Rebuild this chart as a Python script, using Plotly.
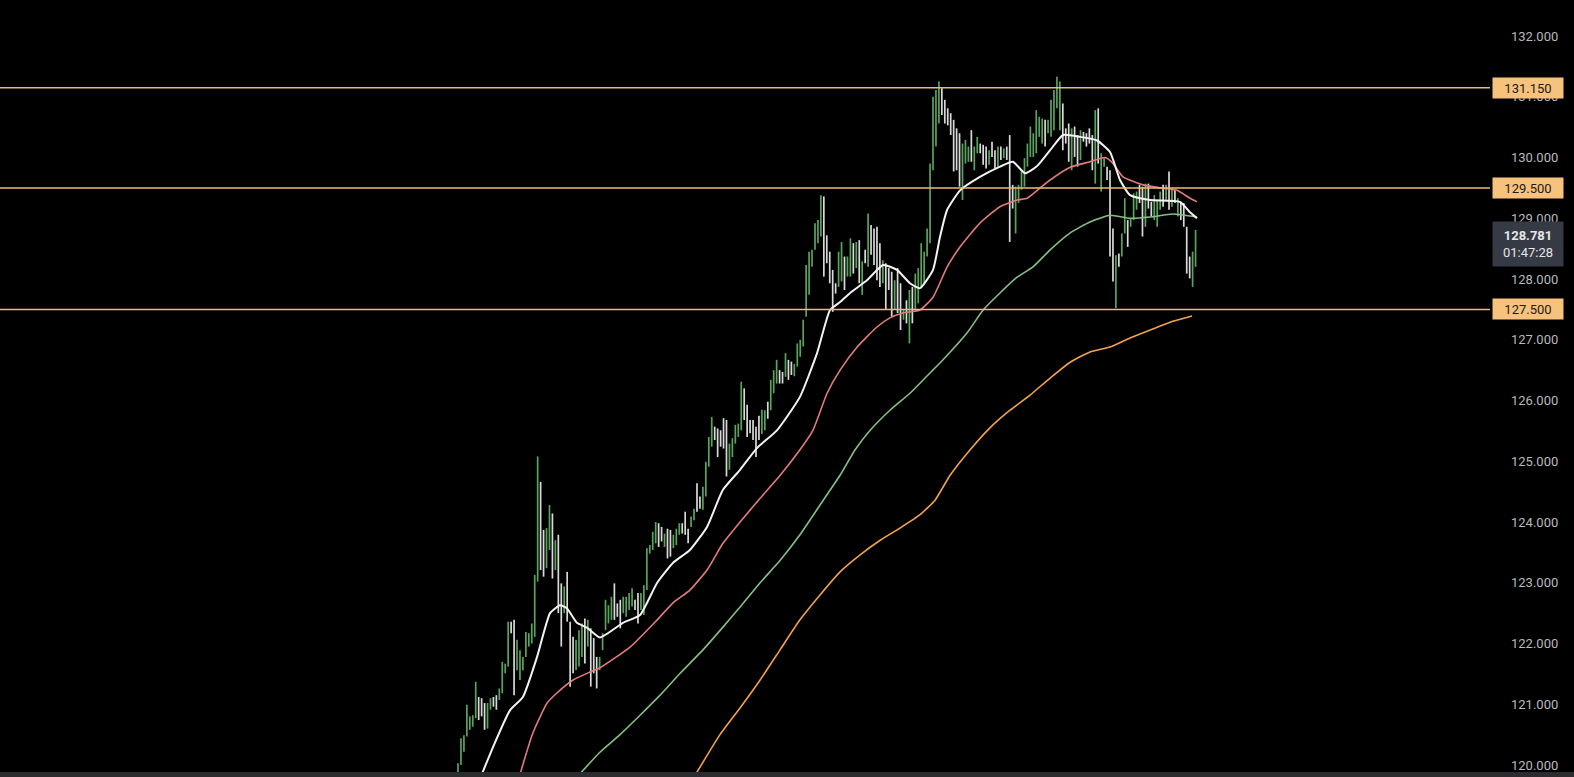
import plotly.graph_objects as go

# ---------------- price bars ----------------
bar_open = [
    119.88,120.02,120.30,120.50,120.62,120.66,120.80,121.08,121.05,120.98,120.65,120.95,121.08,121.10,121.10,121.22,121.55,121.65,122.32,122.30,
    121.60,121.45,121.58,121.80,121.98,122.05,122.15,123.05,124.40,123.80,123.30,123.60,124.10,123.25,123.70,122.90,122.55,123.10,122.30,122.05,
    121.60,121.66,121.82,122.35,121.98,122.20,122.05,121.74,121.58,
    121.92,122.25,122.36,122.42,122.90,122.62,122.68,122.52,122.48,122.58,122.64,122.70,122.78,122.58,122.50,122.92,123.50,123.56,123.68,123.94,
    123.88,123.62,123.85,123.82,123.60,123.65,123.82,123.95,124.10,123.86,123.94,124.05,124.55,124.38,124.24,124.46,124.94,125.28,125.55,125.50,
    125.48,125.65,125.60,124.90,125.10,125.32,125.42,125.55,126.10,125.88,125.65,125.64,125.52,125.70,125.48,
    125.54,125.94,125.86,126.15,126.30,126.46,126.44,126.42,126.62,126.60,126.42,126.58,126.75,126.92,127.40,127.78,128.22,128.50,128.62,128.75,
    129.30,128.68,128.40,128.10,127.90,127.90,128.00,128.32,128.06,128.08,128.55,128.20,128.60,127.78,128.45,128.25,128.85,128.78,128.80,128.55,
    127.96,128.20,128.15,128.08,127.52,128.12,127.88,127.35,
    127.60,127.00,127.82,127.52,127.64,127.90,127.96,128.40,128.62,129.82,130.22,130.60,131.10,130.90,130.78,130.70,130.58,130.44,130.36,129.35,
    129.93,129.96,130.40,129.82,130.09,130.20,130.18,130.15,129.90,130.22,130.08,129.88,130.15,130.00,130.15,130.05,129.50,128.80,129.28,129.50,
    129.55,129.88,130.04,130.04,130.10,130.36,130.26,130.58,
    130.42,130.37,130.48,130.84,130.50,130.85,130.45,130.52,129.82,130.48,130.34,129.98,130.40,130.37,130.45,130.33,129.62,130.76,129.48,129.87,
    129.82,129.72,128.78,127.58,128.40,128.40,128.78,128.94,128.88,129.00,129.16,129.52,129.48,128.90,129.54,129.25,129.00,128.90,129.16,129.52,
    129.32,129.70,129.21,129.44,129.05,129.24,129.22,128.82,128.34,127.92,128.24,
]
bar_high = [
    120.03,120.44,120.49,120.99,120.80,120.82,121.37,121.12,121.10,121.02,121.02,121.10,121.12,121.15,121.26,121.70,121.67,122.36,122.36,122.39,
    122.06,121.89,121.78,122.19,122.17,122.33,123.13,125.08,124.66,123.87,123.90,124.28,124.14,123.70,123.79,122.99,122.94,123.18,122.36,122.11,
    122.06,122.22,122.33,122.41,122.39,122.25,122.09,121.78,121.78,
    122.17,122.72,122.63,122.77,122.99,122.66,122.72,122.77,122.77,122.83,122.91,122.72,122.83,122.83,122.96,123.57,123.62,123.84,124.00,123.98,
    123.92,123.81,123.89,123.87,123.79,123.89,123.98,123.98,124.17,123.89,124.09,124.22,124.64,124.42,124.58,124.99,125.40,125.73,125.57,125.54,
    125.51,125.71,125.68,125.29,125.38,125.60,125.62,126.31,126.20,125.93,125.68,125.68,125.57,125.75,125.85,
    125.84,125.98,126.34,126.50,126.67,126.50,126.47,126.78,126.67,126.64,126.60,126.94,127.00,127.33,128.23,128.45,128.48,128.92,128.97,129.38,
    129.36,128.72,128.45,128.15,127.93,128.45,128.61,128.37,128.37,128.67,128.59,128.61,128.64,128.29,128.48,129.08,128.89,128.83,128.86,128.59,
    128.31,128.26,128.18,128.12,127.98,128.18,127.93,127.49,
    127.65,127.82,127.87,128.09,128.18,128.59,128.45,128.83,129.90,131.00,131.11,131.25,131.14,130.95,130.81,130.73,130.62,130.48,130.40,130.23,
    130.29,130.18,130.45,130.18,130.34,130.23,130.21,130.18,130.12,130.26,130.12,130.18,130.18,130.15,130.18,130.37,129.55,129.52,129.55,129.79,
    129.99,130.23,130.51,130.40,130.78,130.67,130.64,130.62,
    130.62,130.95,131.11,131.33,131.25,130.89,130.48,130.56,130.48,130.51,130.37,130.45,130.42,130.40,130.48,130.37,130.78,130.81,130.07,130.01,
    129.85,129.79,128.83,128.39,128.42,128.75,129.33,128.97,129.00,129.41,129.44,129.55,129.52,129.57,129.57,129.27,129.38,129.30,129.44,129.55,
    129.55,129.77,129.49,129.46,129.33,129.27,129.25,128.86,128.37,128.45,128.81,
]
bar_low = [
    119.84,120.00,120.22,120.47,120.58,120.63,120.77,120.74,120.80,120.58,120.60,120.91,120.96,120.91,121.07,121.18,121.51,121.62,122.17,121.15,
    121.56,121.40,121.56,121.78,121.95,122.00,122.11,123.02,123.21,123.10,123.24,123.54,123.07,123.21,122.50,121.95,122.50,122.36,121.29,121.51,
    121.56,121.62,121.78,121.67,121.95,121.29,121.51,121.26,121.56,
    121.89,122.22,122.33,122.39,122.39,122.44,122.25,122.50,122.44,122.55,122.61,122.55,122.33,122.55,122.47,122.88,123.48,123.54,123.65,123.59,
    123.68,123.59,123.40,123.43,123.57,123.62,123.79,123.81,123.79,123.65,123.92,124.03,124.17,124.22,124.20,124.42,124.91,125.24,125.35,125.07,
    125.24,125.21,124.75,124.86,125.07,125.29,125.40,125.51,125.68,125.40,125.46,125.35,125.07,125.35,125.45,
    125.51,125.70,125.84,126.12,126.28,126.28,126.28,126.39,126.34,126.42,126.40,126.56,126.72,126.89,127.38,127.74,128.20,128.48,128.59,128.70,
    128.04,128.26,127.93,127.46,127.76,127.87,127.96,127.82,128.04,128.04,128.09,128.18,127.93,127.74,128.26,128.20,128.40,128.23,127.98,127.87,
    127.93,127.49,127.82,127.38,127.49,127.44,127.16,127.33,
    127.27,126.94,127.27,127.49,127.60,127.87,127.93,128.37,128.59,129.79,130.18,130.56,130.70,130.56,130.53,130.37,129.77,129.79,129.52,129.30,
    129.90,129.93,129.93,129.79,130.07,130.07,129.88,129.82,129.88,130.01,129.82,129.85,129.96,129.99,129.96,128.61,129.16,128.75,129.25,129.47,
    129.52,129.85,130.01,130.01,130.07,130.34,130.23,130.18,
    130.40,130.34,130.45,130.81,130.45,130.12,130.23,129.93,129.79,130.01,129.85,129.96,130.26,130.18,130.23,129.79,129.57,129.90,129.44,129.85,
    129.63,128.37,127.96,127.52,128.20,128.37,128.75,128.53,128.86,128.97,129.14,129.25,128.70,128.86,129.16,129.03,128.97,128.86,129.14,129.19,
    129.30,129.14,129.19,129.25,129.03,128.97,128.86,128.09,128.01,127.87,128.20,
]
bar_close = [
    120.00,120.40,120.45,120.90,120.76,120.80,121.30,120.80,120.85,120.65,120.98,121.06,121.00,120.96,121.22,121.65,121.64,122.30,122.20,121.25,
    122.00,121.85,121.75,122.15,122.12,122.30,123.05,124.40,123.30,123.20,123.85,124.20,123.15,123.65,122.60,122.05,122.90,122.45,121.40,121.60,
    122.00,122.18,122.28,121.72,122.35,121.35,121.55,121.30,121.75,
    122.12,122.68,122.58,122.72,122.45,122.48,122.30,122.74,122.72,122.80,122.88,122.58,122.38,122.80,122.92,123.50,123.60,123.80,123.96,123.64,
    123.72,123.78,123.45,123.48,123.76,123.86,123.95,123.84,123.82,123.68,124.06,124.20,124.22,124.25,124.54,124.95,125.35,125.60,125.40,125.12,
    125.28,125.25,124.85,125.25,125.35,125.56,125.60,126.10,125.72,125.45,125.50,125.40,125.12,125.40,125.80,
    125.80,125.75,126.30,126.45,126.62,126.32,126.30,126.74,126.38,126.45,126.58,126.90,126.96,127.30,128.15,128.40,128.45,128.88,128.90,129.30,
    128.15,128.30,127.98,127.52,127.78,128.40,128.55,127.86,128.33,128.62,128.12,128.58,127.98,128.25,128.28,128.95,128.45,128.28,128.05,127.92,
    128.28,127.55,127.86,127.45,127.95,127.50,127.22,127.46,
    127.30,127.75,127.32,128.05,128.12,128.55,128.40,128.80,129.85,130.90,131.05,131.10,130.74,130.60,130.56,130.40,129.82,129.84,129.58,130.18,
    130.25,130.15,129.96,130.14,130.30,130.09,129.92,129.86,130.10,130.04,129.86,130.15,129.98,130.12,129.98,128.80,129.20,129.45,129.52,129.76,
    129.95,130.20,130.48,130.36,130.72,130.64,130.60,130.22,
    130.60,130.90,131.05,131.20,131.15,130.16,130.26,129.98,130.44,130.04,129.88,130.40,130.28,130.20,130.26,129.84,130.70,129.95,130.02,129.98,
    129.66,128.45,128.02,128.32,128.22,128.70,129.28,128.56,128.98,129.38,129.40,129.28,128.76,129.52,129.20,129.05,129.35,129.26,129.42,129.22,
    129.52,129.18,129.46,129.28,129.30,129.00,128.90,128.14,128.04,128.40,128.781,
]
bar_index = list(range(len(bar_close)))

# ---------------- moving averages (sampled at bar indices) ----------------
ma_white_idx = [6, 11.9, 17.6, 22.0, 26.8, 31.2, 34.6, 36.9, 40.3, 43.7, 48.1, 55.9, 61.7, 67.5, 72.9, 78.6, 84.4, 89.8, 95.6, 101.4,
                108.1, 115.9, 121.7, 126.1, 129.5, 132.9, 138.6, 144.1, 148.8, 153.2, 156.6, 161.0, 163.4, 165.8, 170.2, 176.9, 183.7, 188.1,
                192.2, 196.3, 200.7, 205.1, 210.8, 216.6, 221.0, 224.4, 227.8, 234.6, 244.7, 248.1, 250.5]
ma_white_val = [119.60, 120.30, 120.90, 121.12, 121.78, 122.50, 122.63, 122.58, 122.34, 122.26, 122.10, 122.34, 122.47, 123.00, 123.33, 123.54, 123.92, 124.53, 124.86, 125.22,
                125.51, 126.06, 126.78, 127.49, 127.62, 127.77, 127.98, 128.23, 128.15, 127.93, 127.85, 128.15, 128.70, 129.14, 129.46, 129.68, 129.85, 129.93,
                129.74, 129.86, 130.12, 130.37, 130.34, 130.28, 130.09, 129.63, 129.38, 129.30, 129.27, 129.10, 129.00]

ma_red_idx = [19.5, 25.4, 30.2, 33.6, 39.0, 44.7, 48.1, 58.3, 67.5, 72.9, 78.6, 84.4, 89.8, 95.6, 102.4, 109.2, 115.9, 120.3, 125.1, 129.5,
              135.3, 142.0, 146.4, 150.8, 156.6, 161.0, 165.8, 170.2, 176.9, 183.7, 189.5, 192.9, 197.3, 200.7, 207.5, 214.2, 219.3, 221.7, 225.4,
              232.2, 238.0, 243.7, 248.1, 250.5]
ma_red_val = [119.60, 120.53, 121.02, 121.19, 121.40, 121.53, 121.60, 121.94, 122.39, 122.67, 122.88, 123.21, 123.65, 124.00, 124.39, 124.77, 125.19, 125.51, 126.12, 126.50,
              126.88, 127.21, 127.36, 127.44, 127.49, 127.70, 128.20, 128.53, 128.92, 129.19, 129.30, 129.33, 129.50, 129.63, 129.84, 129.93, 130.00, 129.92, 129.68,
              129.55, 129.50, 129.46, 129.33, 129.27]

ma_green_idx = [37.5, 48.1, 54.9, 61.7, 68.5, 75.3, 83.1, 89.8, 95.6, 102.4, 109.2, 115.9, 122.7, 129.5, 134.6, 139.7, 146.4, 153.2, 158.3, 164.4,
                172.5, 178.0, 183.7, 189.5, 194.9, 200.7, 207.5, 214.2, 221.0, 227.8, 234.6, 242.4, 250.5]
ma_green_val = [119.65, 120.21, 120.50, 120.82, 121.15, 121.51, 121.90, 122.27, 122.60, 123.00, 123.37, 123.79, 124.28, 124.77, 125.19, 125.51, 125.84, 126.12, 126.37, 126.67,
                127.11, 127.49, 127.77, 128.03, 128.20, 128.48, 128.76, 128.94, 129.05, 129.00, 129.02, 129.07, 129.02]

ma_orange_idx = [77.5, 88.8, 95.6, 102.4, 109.2, 115.9, 122.7, 129.5, 136.3, 143.1, 149.8, 156.6, 161.7, 166.8, 173.6, 180.3, 187.1, 193.9,
                 200.7, 207.5, 214.2, 221.0, 227.8, 234.6, 241.4, 248.8]
ma_orange_val = [119.60, 120.50, 120.94, 121.40, 121.90, 122.39, 122.80, 123.18, 123.46, 123.70, 123.90, 124.12, 124.36, 124.77, 125.19, 125.55, 125.84, 126.09,
                 126.37, 126.63, 126.80, 126.88, 127.03, 127.16, 127.29, 127.39]

# ---------------- levels and labels ----------------
level_prices = [131.150, 129.500, 127.500]
level_labels = ["131.150", "129.500", "127.500"]
last_price = 128.781
last_price_label = "128.781"
countdown_label = "01:47:28"
y_ticks = [120, 121, 122, 123, 124, 125, 126, 127, 128, 129, 130, 131, 132]
y_tick_labels = ["120.000", "121.000", "122.000", "123.000", "124.000", "125.000", "126.000",
                 "127.000", "128.000", "129.000", "130.000", "131.000", "132.000"]

BG = "#000000"
UP = "#5aa35c"
DOWN = "#d9d9d9"
LEVEL = "#edbd74"
LABEL_BG = "#f7c27c"
AXIS_TXT = "#b7b9bf"
FONT = "Roboto"

fig = go.Figure()

fig.add_trace(go.Ohlc(
    x=bar_index, open=bar_open, high=bar_high, low=bar_low, close=bar_close,
    tickwidth=0,
    increasing=dict(line=dict(color=UP, width=1.7)),
    decreasing=dict(line=dict(color=DOWN, width=1.7)),
    hoverinfo="skip",
))

for idx, val, col, w in [
    (ma_orange_idx, ma_orange_val, "#f0a24c", 1.6),
    (ma_green_idx, ma_green_val, "#86bf86", 1.6),
    (ma_red_idx, ma_red_val, "#e47b7b", 1.6),
    (ma_white_idx, ma_white_val, "#f2f2f2", 2.0),
]:
    fig.add_trace(go.Scatter(x=idx, y=val, mode="lines",
                             line=dict(color=col, width=w, shape="spline", smoothing=0.5),
                             hoverinfo="skip"))

shapes = []
for p in level_prices:
    shapes.append(dict(type="line", xref="paper", x0=0, x1=1, yref="y", y0=p, y1=p,
                       line=dict(color=LEVEL, width=1.5), layer="above"))
# bottom time-axis strip
shapes.append(dict(type="rect", xref="paper", x0=0, x1=1.06, yref="paper", y0=-0.02, y1=0,
                   fillcolor="#2c2c30", line=dict(width=0), layer="above"))

annotations = []
for p, t in zip(level_prices, level_labels):
    annotations.append(dict(xref="paper", x=1, xanchor="left", xshift=2, yref="y", y=p, yanchor="middle",
                            text=t, showarrow=False, bgcolor=LABEL_BG, width=66, height=16,
                            borderpad=2, align="center",
                            font=dict(family=FONT, size=13, color="#1b1b1b")))
annotations.append(dict(xref="paper", x=1, xanchor="left", xshift=2, yref="y", y=last_price, yanchor="top",
                        yshift=11, text="<b>" + last_price_label + "</b><br>" + countdown_label,
                        showarrow=False, bgcolor="#363a45", width=66, height=40, borderpad=2,
                        align="center", font=dict(family=FONT, size=13, color="#e6e6e6")))

fig.update_layout(
    width=1574, height=777,
    paper_bgcolor=BG, plot_bgcolor=BG,
    margin=dict(l=0, r=84, t=0, b=5),
    showlegend=False,
    hovermode=False,
    shapes=shapes,
    annotations=annotations,
    xaxis=dict(range=[-155.25, 349.8], visible=False, rangeslider=dict(visible=False),
               showgrid=False, zeroline=False),
    yaxis=dict(side="right", range=[119.885, 132.593], tickvals=y_ticks, ticktext=y_tick_labels,
               tickfont=dict(family=FONT, size=13, color=AXIS_TXT), showgrid=False, zeroline=False,
               showline=False, ticks="", ticklabelstandoff=20),
)

fig.write_html("out.html", config={"displayModeBar": False},
               post_script="document.body.style.margin='0';document.body.style.overflow='hidden';")
